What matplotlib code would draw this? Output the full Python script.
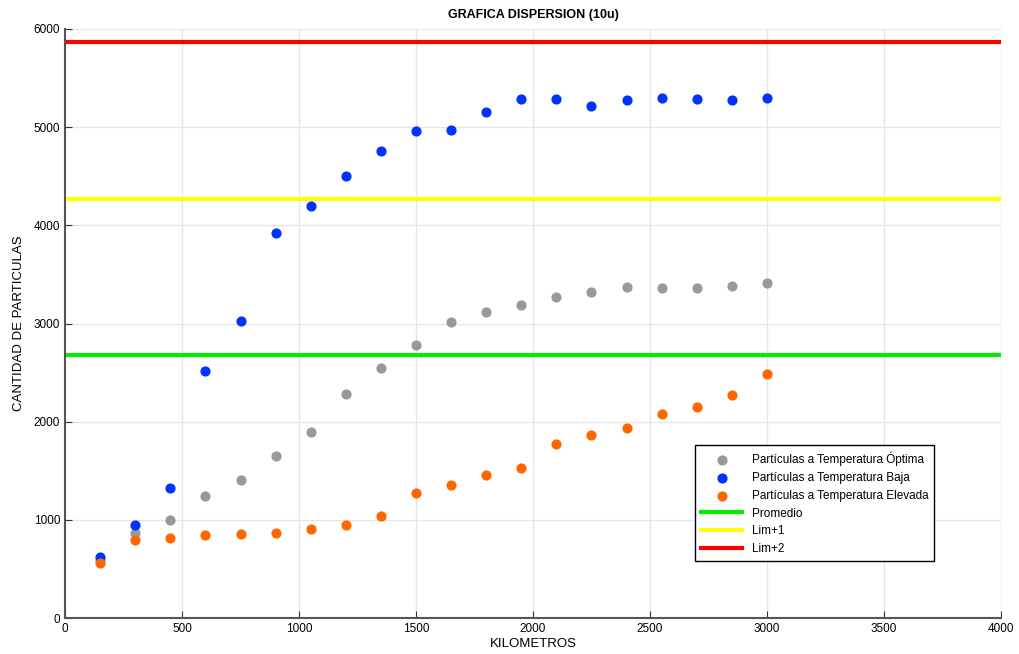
import numpy as np
import matplotlib.pyplot as plt

plt.rcParams['font.family'] = ['Liberation Sans', 'DejaVu Sans']

km = [150, 300, 450, 600, 750, 900, 1050, 1200, 1350, 1500,
      1650, 1800, 1950, 2100, 2250, 2400, 2550, 2700, 2850, 3000]

optima = [590, 870, 1000, 1245, 1405, 1650, 1894, 2281, 2546, 2780,
          3014, 3116, 3187, 3269, 3320, 3371, 3360, 3360, 3381, 3411]
baja = [621, 947, 1324, 2515, 3024, 3920, 4196, 4501, 4756, 4959,
        4969, 5153, 5285, 5285, 5214, 5275, 5295, 5285, 5275, 5295]
elevada = [560, 794, 815, 845, 855, 866, 906, 947, 1039, 1273,
           1354, 1456, 1527, 1772, 1864, 1935, 2077, 2149, 2271, 2485]

promedio = 2678
lim1 = 4267
lim2 = 5866

fig = plt.figure(figsize=(10.19, 6.54), dpi=100)
ax = fig.add_axes([0.0638, 0.055, 0.9185, 0.9007])

ax.scatter(km, optima, s=40, color='#999999', label='Partículas a Temperatura Óptima', zorder=3)
ax.scatter(km, baja, s=40, color='#0033ff', label='Partículas a Temperatura Baja', zorder=3)
ax.scatter(km, elevada, s=40, color='#ff6600', label='Partículas a Temperatura Elevada', zorder=3)
ax.axhline(promedio, color='#00ee00', lw=3, label='Promedio', zorder=2)
ax.axhline(lim1, color='#ffff00', lw=3, label='Lim+1', zorder=2)
ax.axhline(lim2, color='#ff0000', lw=3, label='Lim+2', zorder=2)

ax.set_xlim(0, 4000)
ax.set_ylim(0, 6000)
ax.set_xticks(np.arange(0, 4001, 500))
ax.set_yticks(np.arange(0, 6001, 1000))
ax.grid(True, color='#e6e6e6', lw=1, zorder=0)
ax.tick_params(direction='in', length=5, labelsize=8.5, colors='#333333', labelcolor='black')
for s in ['top', 'right']:
    ax.spines[s].set_visible(False)
for s in ['left', 'bottom']:
    ax.spines[s].set_color('#555555')
    ax.spines[s].set_linewidth(1.5)

ax.set_title('GRAFICA DISPERSION (10u)', fontsize=9, fontweight='bold', pad=8)
ax.set_xlabel('KILOMETROS', fontsize=9.5, labelpad=2)
ax.set_ylabel('CANTIDAD DE PARTICULAS', fontsize=9.5, labelpad=6)

leg = ax.legend(loc='upper left', bbox_to_anchor=(0.667, 0.303), fontsize=8.5,
                frameon=True, fancybox=False, edgecolor='black', framealpha=1,
                handlelength=3.5, borderpad=0.5, labelspacing=0.5)
leg.get_frame().set_linewidth(1)

fig.savefig('out.png', dpi=100)
